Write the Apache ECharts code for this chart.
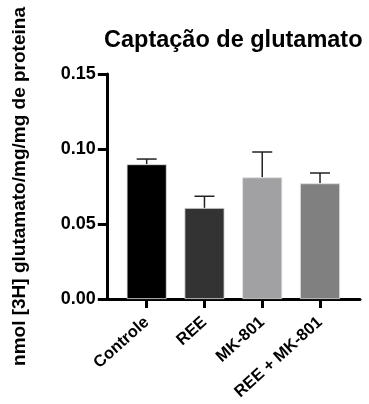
<!DOCTYPE html>
<html><head><meta charset="utf-8">
<script src="https://cdn.jsdelivr.net/npm/echarts@6/dist/echarts.min.js"></script>
<style>html,body{margin:0;padding:0;background:#fff}#c{width:369px;height:404px}</style>
</head><body><div id="c"></div>
<script>
const categories = ['Controle', 'REE', 'MK-801', 'REE + MK-801'];
const means = [0.0898, 0.0607, 0.0811, 0.0771];
const upper = [0.0933, 0.0685, 0.0980, 0.0840];
const colors = ['#000000', '#333333', '#a1a1a4', '#808080'];
const yTicks = [0, 0.05, 0.10, 0.15];

const chart = echarts.init(document.getElementById('c'));
const font = 'Liberation Sans, Arial, sans-serif';
chart.setOption({
  animation: false,
  title: {
    text: 'Captação de glutamato', left: 99, top: 24,
    textStyle: {fontFamily: font, fontWeight: 'bold', fontSize: 23.5, color: '#000'}
  },
  grid: [
    {left: 117.8, right: 20.1, top: 74, bottom: 105},
    {left: 107, right: 9, top: 74, bottom: 105}
  ],
  xAxis: [
    {type: 'category', gridIndex: 0, data: categories,
     axisLine: {show: false},
     axisTick: {show: true, alignWithLabel: true, length: 9, lineStyle: {color: '#000', width: 3}},
     axisLabel: {rotate: 42, interval: 0, margin: 21, fontFamily: font, fontWeight: 'bold', fontSize: 16.5, color: '#000'}},
    {type: 'value', gridIndex: 1, min: 0, max: 1, axisLine: {show: true, onZero: false, lineStyle: {color: '#000', width: 3}},
     axisTick: {show: false}, axisLabel: {show: false}, splitLine: {show: false}}
  ],
  yAxis: [
    {type: 'value', gridIndex: 0, min: 0, max: 0.15, interval: 0.05, offset: 11,
     name: 'nmol [3H] glutamato/mg/mg de proteina', nameLocation: 'middle', nameGap: 78,
     nameTextStyle: {fontFamily: font, fontWeight: 'bold', fontSize: 19, color: '#000'},
     axisLine: {show: true, lineStyle: {color: '#000', width: 3}},
     axisTick: {show: true, length: 9, lineStyle: {color: '#000', width: 3}},
     axisLabel: {margin: 11, fontFamily: font, fontWeight: 'bold', fontSize: 18, color: '#000',
       formatter: v => v.toFixed(2)},
     splitLine: {show: false}},
    {type: 'value', gridIndex: 1, show: false}
  ],
  series: [
    {type: 'bar', xAxisIndex: 0, yAxisIndex: 0, barWidth: 40,
     data: means.map((v, i) => ({value: v, itemStyle: {color: colors[i], borderColor: '#e0e0e0', borderWidth: 0.8}})),
     z: 2},
    {type: 'custom', xAxisIndex: 0, yAxisIndex: 0, z: 1,
     data: means.map((v, i) => [i, v, upper[i]]),
     renderItem: (params, api) => {
       const p0 = api.coord([api.value(0), api.value(1)]);
       const p1 = api.coord([api.value(0), api.value(2)]);
       const hw = 10;
       return {type: 'group', children: [
         {type: 'line', shape: {x1: p0[0], y1: p0[1], x2: p1[0], y2: p1[1]}, style: {stroke: '#222', lineWidth: 1.5}},
         {type: 'line', shape: {x1: p1[0] - hw, y1: p1[1], x2: p1[0] + hw, y2: p1[1]}, style: {stroke: '#222', lineWidth: 1.5}}
       ]};
     }}
  ]
});
</script></body></html>
